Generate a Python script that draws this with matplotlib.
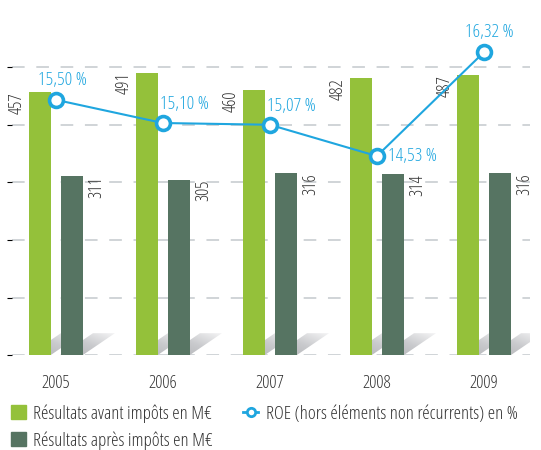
import matplotlib
matplotlib.use('Agg')
import matplotlib.pyplot as plt
from matplotlib.patches import Polygon, Patch
from matplotlib.lines import Line2D
from matplotlib.colors import LinearSegmentedColormap
import numpy as np

years = ['2005', '2006', '2007', '2008', '2009']
avant_impots = [457, 491, 460, 482, 487]
apres_impots = [311, 305, 316, 314, 316]
roe = [15.50, 15.10, 15.07, 14.53, 16.32]
roe_labels = ['15,50 %', '15,10 %', '15,07 %', '14,53 %', '16,32 %']

GREEN = '#94c13a'
DARK = '#567462'
BLUE = '#1fa6df'
TXT = '#333333'

plt.rcParams['font.family'] = ['Open Sans', 'DejaVu Sans']
plt.rcParams['font.stretch'] = 'condensed'
plt.rcParams['font.weight'] = 'medium'

fig = plt.figure(figsize=(5.41, 4.5), dpi=100)
ax = fig.add_axes([0.022, 0.211, 0.9575, 0.767])

x = np.arange(len(years))
w = 0.205
off = 0.15

# soft shadows behind the bars (gradient clipped to a parallelogram)
shade = LinearSegmentedColormap.from_list('shade', ['#b3b4b7', '#c9cacd', '#f4f4f5'])
gx, gy = np.meshgrid(np.linspace(0, 1, 40), np.linspace(0, 1, 40))
grad = (gx + gy) / 2
sh_dx, sh_h = 0.30, 38
for xs in (x - off, x + off):
    for xi in xs:
        l, r = xi - w / 2, xi + w / 2
        poly = Polygon([(l, 0), (r, 0), (r + sh_dx, sh_h), (l + sh_dx, sh_h)],
                       closed=True, facecolor='none', edgecolor='none')
        ax.add_patch(poly)
        im = ax.imshow(grad, cmap=shade, origin='lower', extent=(l, r + sh_dx, 0, sh_h),
                       aspect='auto', zorder=1, interpolation='bilinear')
        im.set_clip_path(poly)

ax.bar(x - off, avant_impots, w, color=GREEN, zorder=2)
ax.bar(x + off, apres_impots, w, color=DARK, zorder=2)

for xi, v in zip(x, avant_impots):
    ax.annotate(str(v), (xi - off - w / 2, v), xytext=(-2, 0), textcoords='offset points',
                rotation=90, ha='right', va='top', fontsize=13, color=TXT)
for xi, v in zip(x, apres_impots):
    ax.annotate(str(v), (xi + off + w / 2, v), xytext=(3, 0), textcoords='offset points',
                rotation=90, ha='left', va='top', fontsize=13, color=TXT)

ax.set_xlim(-0.41, 4.43)
ax.set_ylim(0, 600)
ax.set_yticks(range(0, 501, 100))
ax.yaxis.grid(True, color='#d0d4d7', lw=1.4, linestyle=(0, (6.5, 6)))
ax.set_axisbelow(True)
ax.tick_params(left=False, labelleft=False, bottom=False)
ax.set_xticks(x)
ax.set_xticklabels(years, fontsize=13, color=TXT)
ax.tick_params(axis='x', pad=10)
for s in ax.spines.values():
    s.set_visible(False)

ax2 = ax.twinx()
ax2.set_ylim(11.1, 17.05)
ax2.plot(x, roe, color=BLUE, lw=1.5, marker='o', ms=10, mfc='white', mec=BLUE, mew=2.6, zorder=5)
ax2.axis('off')

label_off = [(5, 8, 'center', 'bottom'), (-2, 7, 'left', 'bottom'), (-2, 7, 'left', 'bottom'),
             (8, 0, 'left', 'center'), (4, 8, 'center', 'bottom')]
for xi, v, t, (dx, dy, ha, va) in zip(x, roe, roe_labels, label_off):
    ax2.annotate(t, (xi, v), xytext=(dx, dy), textcoords='offset points',
                 ha=ha, va=va, fontsize=13.5, color=BLUE)

handles = [Patch(color=GREEN), Patch(color=DARK),
           Line2D([], [], color=BLUE, lw=2, marker='o', ms=6, mfc='white', mec=BLUE, mew=2)]
labels = ['Résultats avant impôts en M€', 'Résultats après impôts en M€',
          'ROE (hors éléments non récurrents) en %']
fig.legend(handles, labels, ncol=2, loc='lower left', bbox_to_anchor=(0.006, -0.016),
           frameon=False, fontsize=13.6, labelcolor=TXT, handlelength=0.78, handleheight=0.78,
           handletextpad=0.42, columnspacing=1.6, labelspacing=0.45, borderpad=0.4,
           borderaxespad=0)

fig.savefig('out.png', dpi=100)
